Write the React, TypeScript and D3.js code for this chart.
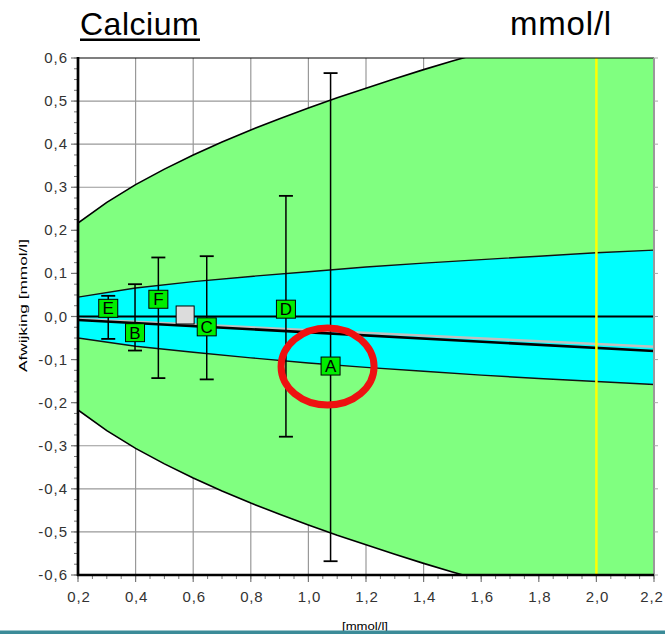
import React from "react";
import * as d3 from "d3";

// ---------- data ----------
const outerX = [0.2, 0.3, 0.4, 0.5, 0.6, 0.7, 0.8, 0.9, 1.0, 1.1, 1.2, 1.3, 1.4, 1.5, 1.6, 1.8, 2.0, 2.2];
const outerUpper = [0.217, 0.265, 0.306, 0.342, 0.375, 0.405, 0.433, 0.459, 0.484, 0.508, 0.53, 0.552, 0.573, 0.593, 0.612, 0.65, 0.685, 0.72];
const outerLower = [-0.217, -0.265, -0.306, -0.342, -0.375, -0.405, -0.433, -0.459, -0.484, -0.508, -0.53, -0.552, -0.573, -0.593, -0.612, -0.65, -0.685, -0.72];

const cyanX = [0.2, 0.4, 0.6, 0.8, 1.0, 1.2, 1.4, 1.6, 1.8, 2.0, 2.2];
const cyanUpper = [0.045, 0.066, 0.081, 0.093, 0.104, 0.115, 0.124, 0.132, 0.14, 0.148, 0.154];
const cyanLower = [-0.05, -0.069, -0.083, -0.096, -0.108, -0.118, -0.127, -0.136, -0.144, -0.151, -0.158];

const regX = [0.2, 2.2];
const regY = [-0.008, -0.08];
const refLineY = [-0.006, -0.07];

const pointLabels = ["E", "B", "F", "C", "D", "A"];
const pointX = [0.305, 0.398, 0.479, 0.647, 0.922, 1.077];
const pointY = [0.019, -0.0375, 0.04, -0.024, 0.017, -0.115];
const errLow = [-0.052, -0.079, -0.143, -0.146, -0.279, -0.568];
const errHigh = [0.048, 0.075, 0.137, 0.14, 0.28, 0.565];

const grayPointX = 0.572;
const grayPointY = 0.0035;

const highlightLabel = "A";
const yellowX = 2.0;

const xTicks = [0.2, 0.4, 0.6, 0.8, 1.0, 1.2, 1.4, 1.6, 1.8, 2.0, 2.2];
const yTicks = [0.6, 0.5, 0.4, 0.3, 0.2, 0.1, 0.0, -0.1, -0.2, -0.3, -0.4, -0.5, -0.6];

const fmt = (v: number) => (Math.abs(v) < 1e-9 ? "0,0" : v.toFixed(1).replace(".", ","));

export default function App() {
  const W = 665, H = 634;
  const L = 78, R = 654, T = 58, B = 575;
  const x = d3.scaleLinear().domain([0.2, 2.2]).range([L, R]);
  const y = d3.scaleLinear().domain([-0.6, 0.6]).range([B, T]);

  const outerArea = d3.area<number>().x((_, i) => x(outerX[i])).y0((_, i) => y(outerLower[i])).y1((_, i) => y(outerUpper[i]))(outerX) || "";
  const outerUp = d3.line<number>().x((_, i) => x(outerX[i])).y((d) => y(d))(outerUpper) || "";
  const outerLo = d3.line<number>().x((_, i) => x(outerX[i])).y((d) => y(d))(outerLower) || "";
  const cyanArea = d3.area<number>().x((_, i) => x(cyanX[i])).y0((_, i) => y(cyanLower[i])).y1((_, i) => y(cyanUpper[i]))(cyanX) || "";
  const cyanUp = d3.line<number>().x((_, i) => x(cyanX[i])).y((d) => y(d))(cyanUpper) || "";
  const cyanLo = d3.line<number>().x((_, i) => x(cyanX[i])).y((d) => y(d))(cyanLower) || "";
  const regLine = d3.line<number>().x((_, i) => x(regX[i])).y((d) => y(d))(regY) || "";
  const refLine = d3.line<number>().x((_, i) => x(regX[i])).y((d) => y(d))(refLineY) || "";

  const xMinor = d3.range(0.2, 2.2001, 0.05);
  const yMinor = d3.range(-0.6, 0.6001, 0.025);
  const vGrid = xTicks.filter((t) => t > 0.21 && t < 2.19);
  const hGrid = yTicks.filter((t) => t < 0.59 && t > -0.59);

  const hi = pointLabels.indexOf(highlightLabel);
  const sq = 19;
  const font = "Arial, 'Liberation Sans', sans-serif";

  return (
    <svg width={W} height={H} style={{ position: "absolute", left: 0, top: 0 }} fontFamily={font}>
      <defs>
        <clipPath id="plot">
          <rect x={L} y={T} width={R - L} height={B - T} />
        </clipPath>
      </defs>
      <rect x={0} y={0} width={W} height={H} fill="#fff" />

      {/* title */}
      <text x={80} y={35} fontSize={32} letterSpacing={0.5} fill="#000">Calcium</text>
      <rect x={80} y={38.5} width={120} height={2.5} fill="#000" />
      <text x={612} y={35} fontSize={33} letterSpacing={0.8} fill="#000" textAnchor="end">mmol/l</text>

      <g clipPath="url(#plot)">
        <rect x={L} y={T} width={R - L} height={B - T} fill="#fff" />
        {vGrid.map((t) => (
          <line key={"v" + t} x1={x(t)} x2={x(t)} y1={T} y2={B} stroke="#999" strokeWidth={1.2} />
        ))}
        {hGrid.map((t) => (
          <line key={"h" + t} x1={L} x2={R} y1={y(t)} y2={y(t)} stroke="#999" strokeWidth={1.2} />
        ))}
        <path d={outerArea} fill="#80ff80" />
        <path d={outerUp} fill="none" stroke="#000" strokeWidth={1.6} />
        <path d={outerLo} fill="none" stroke="#000" strokeWidth={1.6} />
        <path d={cyanArea} fill="#00ffff" />
        <path d={cyanUp} fill="none" stroke="#111" strokeWidth={1.4} />
        <path d={cyanLo} fill="none" stroke="#111" strokeWidth={1.4} />
        <line x1={L} x2={R} y1={y(0)} y2={y(0)} stroke="#000" strokeWidth={2} />
        <path d={refLine} fill="none" stroke="#c0c0c0" strokeWidth={2.5} />
        <path d={regLine} fill="none" stroke="#000" strokeWidth={2.6} />
        <line x1={x(yellowX)} x2={x(yellowX)} y1={T} y2={B} stroke="#ffff00" strokeWidth={2.5} />

        {pointLabels.map((lab, i) => (
          <g key={"e" + lab}>
            <line x1={x(pointX[i])} x2={x(pointX[i])} y1={y(errHigh[i])} y2={y(errLow[i])} stroke="#000" strokeWidth={1.5} />
            <line x1={x(pointX[i]) - 7} x2={x(pointX[i]) + 7} y1={y(errHigh[i])} y2={y(errHigh[i])} stroke="#000" strokeWidth={1.8} />
            <line x1={x(pointX[i]) - 7} x2={x(pointX[i]) + 7} y1={y(errLow[i])} y2={y(errLow[i])} stroke="#000" strokeWidth={1.8} />
          </g>
        ))}

        <rect x={x(grayPointX) - 9} y={y(grayPointY) - 9} width={18} height={18} fill="#dcdcdc" stroke="#000" strokeWidth={1} />

        {pointLabels.map((lab, i) => (
          <g key={"p" + lab}>
            <rect x={x(pointX[i]) - sq / 2} y={y(pointY[i]) - 9} width={sq} height={18} fill="#00ee00" stroke="#000" strokeWidth={1} />
            <text x={x(pointX[i])} y={y(pointY[i]) + 6} fontSize={17} textAnchor="middle" fill="#000">{lab}</text>
          </g>
        ))}
      </g>

      {hi >= 0 && (
        <ellipse cx={x(pointX[hi]) - 3} cy={y(pointY[hi]) + 0.5} rx={46.5} ry={38.5} fill="none" stroke="#ee1111" strokeWidth={7} />
      )}

      {/* frame */}
      <line x1={L} x2={R} y1={T} y2={T} stroke="#000" strokeWidth={1.2} />
      <line x1={R} x2={R} y1={T} y2={B} stroke="#999" strokeWidth={2} />
      {yTicks.map((t) => (
        <line key={"rt" + t} x1={R} x2={R + 4} y1={y(t)} y2={y(t)} stroke="#aaa" strokeWidth={1} />
      ))}

      {/* y axis ticks */}
      {yMinor.map((t, i) => (
        <line key={"ym" + i} x1={L - 4} x2={L} y1={y(t)} y2={y(t)} stroke="#777" strokeWidth={1} />
      ))}
      {yTicks.map((t) => (
        <line key={"yt" + t} x1={L - 7} x2={L} y1={y(t)} y2={y(t)} stroke="#777" strokeWidth={1.2} />
      ))}
      {yTicks.map((t) => (
        <text key={"yl" + t} x={68} y={y(t) + 5} fontSize={15} letterSpacing={1} textAnchor="end" fill="#333">{fmt(t)}</text>
      ))}

      {/* x axis ticks */}
      {xMinor.map((t, i) => (
        <line key={"xm" + i} x1={x(t)} x2={x(t)} y1={B} y2={B + 4} stroke="#777" strokeWidth={1} />
      ))}
      {xTicks.map((t) => (
        <line key={"xt" + t} x1={x(t)} x2={x(t)} y1={B} y2={B + 7} stroke="#777" strokeWidth={1.2} />
      ))}
      {xTicks.map((t) => (
        <text key={"xl" + t} x={Math.min(x(t) + 1, 652)} y={602} fontSize={15} letterSpacing={0.8} textAnchor="middle" fill="#333">{fmt(t)}</text>
      ))}

      <line x1={L} x2={L} y1={T - 1} y2={B + 1} stroke="#000" strokeWidth={2.7} />
      <line x1={L - 1} x2={R} y1={B} y2={B} stroke="#000" strokeWidth={2.7} />

      {/* axis titles */}
      <text x={342} y={630} fontSize={11} textLength={46} lengthAdjust="spacingAndGlyphs" fill="#000">[mmol/l]</text>
      <text transform="translate(27,372) rotate(-90)" x={0} y={0} fontSize={10} textLength={133} lengthAdjust="spacingAndGlyphs" fill="#000">Afwijking  [mmol/l]</text>

      <rect x={0} y={630.5} width={W} height={4} fill="#3b8b98" />
    </svg>
  );
}
